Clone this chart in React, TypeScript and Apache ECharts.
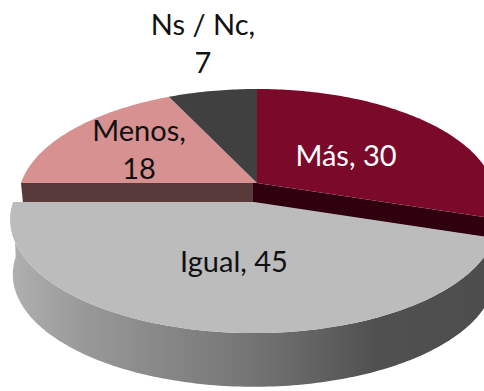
import React, { useEffect, useRef } from "react";
import * as echarts from "echarts";

const categories = ["Más", "Igual", "Menos", "Ns / Nc"];
const values = [30, 45, 18, 7];

const topColors = ["#7b0a2a", "#bcbcbc", "#d69190", "#404040"];
const sideColors = ["#30000f", "", "#593a3a", "#2a2a2a"];
const labelColors = ["#ffffff", "#111111", "#111111", "#111111"];
const labelSeparators = [" ", " ", "\n", "\n"];
const labelAnchors = [[346, 154], [234, 260], [139, 148], [203, 42]];

const PIE = { cx: 257, cy: 183, rx: 236, ry: 108.6, k: 0.155, depth: 18 };
const LIFTED = { cx: 254, cy: 202, scale: 1.02, depth: 55, bottomScale: 0.99 };

function project(deg: number, cx: number, cy: number, scale: number): number[] {
  const t = (deg * Math.PI) / 180;
  const w = 1 + PIE.k * Math.cos(t);
  return [cx + (scale * PIE.rx * Math.sin(t)) / w, cy - (scale * PIE.ry * Math.cos(t)) / w];
}

function arc(a0: number, a1: number, cx: number, cy: number, scale: number): number[][] {
  const n = Math.max(2, Math.ceil(Math.abs(a1 - a0)));
  const pts: number[][] = [];
  for (let i = 0; i <= n; i++) pts.push(project(a0 + ((a1 - a0) * i) / n, cx, cy, scale));
  return pts;
}

const total = values.reduce((a, b) => a + b, 0);

function renderItem(params: any, api: any) {
  const i = params.dataIndex;
  const before = values.slice(0, i).reduce((a, b) => a + b, 0);
  const a0 = (before / total) * 360;
  const a1 = ((before + api.value(0)) / total) * 360;
  const children: any[] = [];
  const lifted = categories[i] === "Igual";
  const cx = lifted ? LIFTED.cx : PIE.cx;
  const cy = lifted ? LIFTED.cy : PIE.cy;
  const scale = lifted ? LIFTED.scale : 1;

  if (lifted) {
    const rimTop = arc(a0, a1, cx, cy, scale);
    const rimBottom = arc(a1, a0, cx, cy + LIFTED.depth, LIFTED.bottomScale * scale);
    children.push({
      type: "polygon",
      z2: 20,
      shape: { points: rimTop.concat(rimBottom) },
      style: {
        fill: new echarts.graphic.LinearGradient(0, 0, 1, 0, [
          { offset: 0, color: "#b0b0b0" },
          { offset: 0.15, color: "#999999" },
          { offset: 0.5, color: "#747474" },
          { offset: 0.76, color: "#505050" },
          { offset: 1, color: "#4d4d4d" },
        ]),
      },
    });
  } else if (a0 === 0 || (a0 > 180 && a0 < 271)) {
    const faceAngle = a0 === 0 ? a1 : a0;
    const p = project(faceAngle, cx, cy, scale);
    const d = PIE.depth + 2;
    children.push({
      type: "polygon",
      z2: 5,
      shape: {
        points:
          a0 === 0
            ? [[cx, cy], p, [p[0], p[1] + d], [cx - 4, cy + d], [cx - 4, cy]]
            : [p, [cx - 4, cy], [cx - 4, cy + d], [p[0] + 2, p[1] + d]],
      },
      style: { fill: sideColors[i] },
    });
  }

  children.push({
    type: "polygon",
    z2: lifted ? 21 : 10,
    shape: { points: [[cx, cy]].concat(arc(a0, a1, cx, cy, scale)) },
    style: { fill: topColors[i] },
  });

  children.push({
    type: "text",
    z2: 40,
    style: {
      text: `${categories[i]},${labelSeparators[i]}${api.value(0)}`,
      x: labelAnchors[i][0],
      y: labelAnchors[i][1],
      fill: labelColors[i],
      font: '29px Lato, "Open Sans", sans-serif',
      align: "center",
      verticalAlign: "middle",
      lineHeight: 38,
    },
  });

  return { type: "group", children };
}

export default function App() {
  const ref = useRef<HTMLDivElement>(null);
  useEffect(() => {
    document.body.style.margin = "0";
    const chart = echarts.init(ref.current!, undefined, { renderer: "svg" });
    chart.setOption({
      animation: false,
      backgroundColor: "#ffffff",
      series: [
        {
          type: "custom",
          coordinateSystem: "none",
          silent: true,
          data: values.map((v) => [v]),
          renderItem,
        },
      ],
    });
    return () => chart.dispose();
  }, []);
  return <div ref={ref} style={{ width: 484, height: 391, overflow: "hidden" }} />;
}
